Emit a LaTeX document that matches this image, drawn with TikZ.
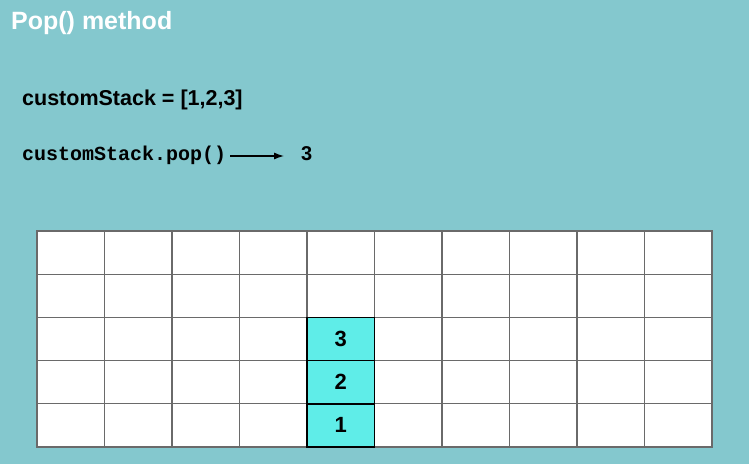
\documentclass[tikz,border=0pt]{standalone}
\usepackage{fontspec}
\setmainfont{Liberation Sans}
\newfontfamily\codefont{Liberation Mono}
\usetikzlibrary{arrows.meta}
\definecolor{slidebg}{HTML}{84C8CE}
\definecolor{stackcyan}{HTML}{5FEDE8}
\definecolor{gridgray}{HTML}{6A6A6A}
\tikzset{cell/.style = {draw=black, fill=stackcyan, line width=1.6pt, rectangle, minimum height=43.2pt, minimum width=67.5pt, font=\bfseries\fontsize{22}{26}\selectfont}}

\begin{document}
\begin{tikzpicture}[x=1pt, y=1pt]
    \fill[slidebg](0,0)rectangle(749,464);
    \useasboundingbox(0,0)rectangle(749,464);
    \node[anchor=base west, inner sep=0, text=white, font=\bfseries\fontsize{25}{29}\selectfont](title)at(11,434){Pop() method};
    \node[anchor=base west, inner sep=0, font=\bfseries\fontsize{21.5}{25}\selectfont](stackdef)at(22,358){customStack = [1,2,3]};
    \node[anchor=base west, inner sep=0, font=\codefont\bfseries\fontsize{20}{24}\selectfont](popcall)at(22,303){customStack.pop()};
    \node[anchor=base west, inner sep=0, font=\bfseries\fontsize{20}{24}\selectfont](popresult)at(301,303){3};
    \draw[-{Latex[length=10pt, width=7pt]}, line width=1.2pt]([xshift=4pt, yshift=5pt]popcall.base east)--([xshift=-17pt, yshift=5pt]popresult.base west);
    \fill[white](37,17)rectangle(712,233);
    \draw[gridgray, line width=1.2pt, xshift=37pt, yshift=17pt](0,0)grid[xstep=67.5pt, ystep=43.2pt](675,216);
    \draw[gridgray, line width=1.2pt](37,17)rectangle(712,233);
    \node[cell](c1)at(340.75,38.6){1};
    \node[cell](c2)at(340.75,81.8){2};
    \node[cell](c3)at(340.75,125){3};
\end{tikzpicture}
\end{document}
